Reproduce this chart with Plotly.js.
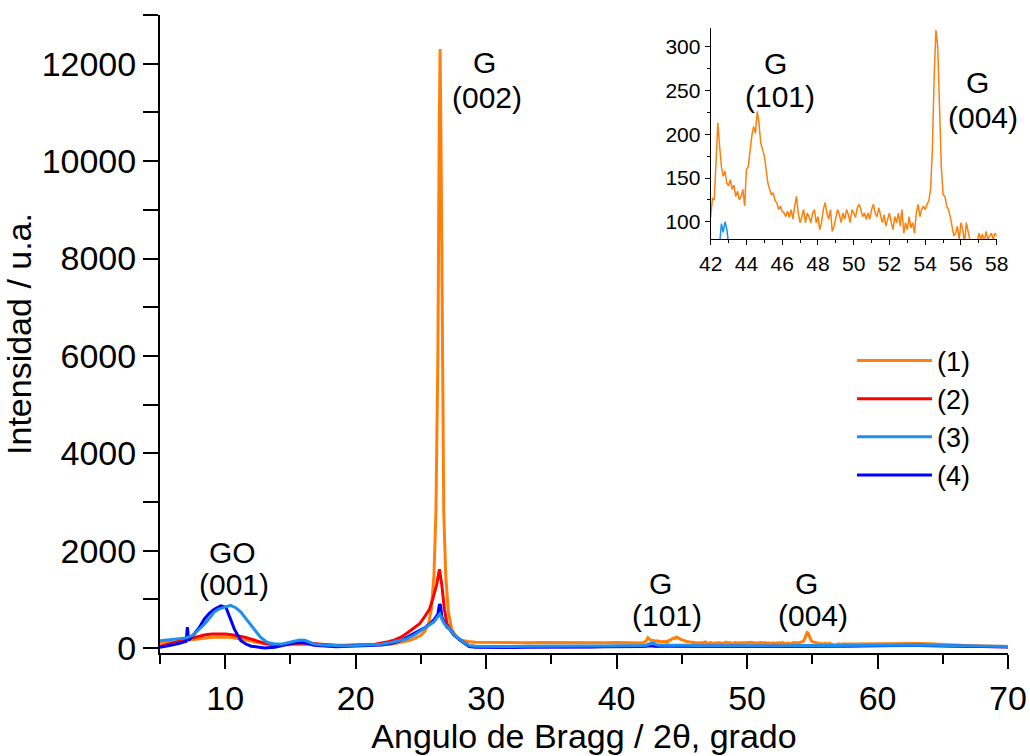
<!DOCTYPE html>
<html>
<head>
<meta charset="utf-8">
<script src="https://cdn.plot.ly/plotly-3.0.1.min.js"></script>
<style>html,body{margin:0;padding:0;background:#fff;}#chart{width:1030px;height:756px;}</style>
</head>
<body>
<div id="chart"></div>
<script>
// ---- Data ----
const seriesNames = ['(1)', '(2)', '(3)', '(4)'];
const seriesColors = ['#FF7F0A', '#FF0000', '#1E8FF0', '#0000FF'];

// Series (1): main range part, [2θ, intensity]
const s1Low = [[5,110],[5.5,130],[6,125],[6.5,145],[7,155],[7.5,170],[8,190],[8.5,210],[9,225],[9.5,232],[10,230],[10.5,220],[11,200],[11.5,175],[12,145],[12.5,115],[13,90],[13.5,72],[14,62],[14.5,66],[15,74],[15.5,82],[16,88],[16.5,82],[17,72],[17.5,66],[18,60],[18.5,62],[19,58],[19.5,60],[20,63],[20.5,61],[21,66],[21.5,69],[22,74],[22.5,82],[23,96],[23.5,118],[24,150],[24.5,195],[25,265],[25.3,345],[25.6,520],[25.8,800],[26.0,1500],[26.15,2800],[26.3,6000],[26.4,10500],[26.47,12300],[26.55,10000],[26.65,5500],[26.75,2800],[26.9,1500],[27.1,750],[27.35,400],[27.7,235],[28.1,165],[28.6,135],[29.2,122],[30,118],[31,114],[32,120],[33,112],[34,118],[35,115],[36,121],[37,113],[38,118],[39,112],[40,116],[41,110],[41.5,108]];
// Series (1): detail 42–58 (also shown in the inset)
const s1DetailX = [42.0,42.1,42.2,42.3,42.4,42.5,42.6,42.7,42.8,42.9,43.0,43.1,43.2,43.3,43.4,43.5,43.6,43.7,43.8,43.9,44.0,44.1,44.2,44.3,44.4,44.5,44.6,44.7,44.8,44.9,45.0,45.1,45.2,45.3,45.4,45.5,45.6,45.7,45.8,45.9,46.0,46.1,46.2,46.3,46.4,46.5,46.6,46.7,46.8,46.9,47.0,47.1,47.2,47.3,47.4,47.5,47.6,47.7,47.8,47.9,48.0,48.1,48.2,48.3,48.4,48.5,48.6,48.7,48.8,48.9,49.0,49.1,49.2,49.3,49.4,49.5,49.6,49.7,49.8,49.9,50.0,50.1,50.2,50.3,50.4,50.5,50.6,50.7,50.8,50.9,51.0,51.1,51.2,51.3,51.4,51.5,51.6,51.7,51.8,51.9,52.0,52.1,52.2,52.3,52.4,52.5,52.6,52.7,52.8,52.9,53.0,53.1,53.2,53.3,53.4,53.5,53.6,53.7,53.8,53.9,54.0,54.1,54.2,54.3,54.4,54.5,54.6,54.7,54.8,54.9,55.0,55.1,55.2,55.3,55.4,55.5,55.6,55.7,55.8,55.9,56.0,56.1,56.2,56.3,56.4,56.5,56.6,56.7,56.8,56.9,57.0,57.1,57.2,57.3,57.4,57.5,57.6,57.7,57.8,57.9,58.0];
const s1DetailY = [106,127,125,167,213,186,163,152,158,144,141,148,137,142,129,135,125,129,137,118,160,163,182,198,209,201,226,213,190,182,175,160,144,137,131,133,124,122,114,118,112,110,106,112,105,114,103,118,129,110,99,106,114,99,110,106,99,110,114,99,106,91,99,114,122,110,103,114,89,95,106,114,108,99,110,103,114,108,99,114,110,105,116,120,114,106,110,103,110,103,114,120,110,106,116,106,99,108,95,103,110,99,91,106,99,110,95,114,87,99,91,106,93,99,87,110,120,106,114,118,114,120,124,137,182,266,319,300,220,163,131,129,118,114,106,95,84,87,95,80,99,91,76,99,87,76,69,72,69,76,87,80,86,76,89,80,84,87,80,87,84];
const s1High = [[58.5,85],[59,88],[59.5,92],[60,95],[61,100],[62,102],[63,97],[64,88],[65,72],[66,58],[67,48],[68,42],[69,36],[70,32]];

// Series (2)
const s2 = [[5,40],[5.5,70],[6,100],[6.5,140],[7,180],[7.5,215],[8,250],[8.5,275],[9,290],[9.5,292],[10,288],[10.5,275],[11,255],[11.5,225],[12,185],[12.5,140],[13,100],[13.5,80],[14,72],[14.5,80],[15,95],[15.5,105],[16,112],[16.5,102],[17,88],[17.5,72],[18,62],[18.5,56],[19,52],[19.5,54],[20,57],[20.5,62],[21,72],[21.5,82],[22,100],[22.5,130],[23,170],[23.5,230],[24,320],[24.5,420],[24.9,500],[25.3,650],[25.66,800],[25.9,1000],[26.2,1300],[26.42,1620],[26.6,1300],[26.8,800],[27.0,500],[27.2,400],[27.5,280],[27.96,180],[28.4,90],[28.7,45],[29.2,32],[30,28],[31,30],[32,27],[33,32],[34,29],[35,31],[36,28],[37,33],[38,30],[39,34],[40,32],[41,36],[42,40],[43,42],[44,45],[45,43],[46,40],[47,38],[48,41],[49,39],[50,40],[51,37],[52,42],[53,38],[54,41],[55,44],[56,40],[57,43],[58,45],[59,48],[60,52],[61,55],[62,56],[63,54],[64,50],[65,45],[66,40],[67,36],[68,33],[69,30],[70,28]];

// Series (3)
const s3 = [[5,150],[5.5,165],[6,180],[6.5,195],[7,210],[7.5,260],[8,380],[8.4,490],[8.8,620],[9.16,740],[9.5,800],[9.9,840],[10.4,880],[10.8,830],[11.2,740],[11.6,600],[12,460],[12.4,330],[12.7,225],[13.2,120],[13.7,90],[14.3,80],[14.8,110],[15.3,150],[15.7,165],[16.1,160],[16.5,120],[16.8,85],[17.5,65],[18,55],[19,50],[20,55],[21,62],[22,80],[22.8,120],[23.3,150],[23.86,185],[24.5,270],[24.9,340],[25.3,400],[25.7,470],[26.0,540],[26.3,650],[26.45,700],[26.6,600],[26.8,500],[27.0,440],[27.2,390],[27.5,290],[27.96,180],[28.4,100],[28.7,55],[29.2,40],[30,35],[31,38],[32,35],[33,40],[34,38],[35,42],[36,40],[37,44],[38,42],[39,46],[40,45],[41,48],[42,55],[42.3,60],[42.5,75],[42.6,98],[42.7,88],[42.8,100],[42.9,92],[43.0,75],[43.3,58],[44,60],[44.6,70],[45.2,58],[46,52],[47,50],[48,52],[49,50],[50,52],[51,50],[52,53],[53,50],[54,55],[54.6,62],[55,52],[56,55],[57,57],[58,60],[59,65],[60,68],[61,70],[62,72],[63,68],[64,62],[65,55],[66,48],[67,42],[68,38],[69,35],[70,32]];

// Series (4)
const s4 = [[5,20],[5.5,40],[6,70],[6.5,100],[7,140],[7.1,430],[7.2,160],[7.5,250],[8,420],[8.4,600],[8.8,720],[9.16,800],[9.67,870],[10.05,840],[10.4,600],[10.7,390],[11.2,150],[11.6,80],[12,40],[12.5,15],[13,5],[13.8,20],[14.5,60],[15.3,110],[15.8,115],[16.3,100],[16.8,60],[17.5,45],[18,35],[18.5,30],[19,32],[20,38],[21,48],[22,65],[22.8,100],[23.5,160],[24,230],[24.5,300],[24.9,350],[25.3,420],[25.7,500],[26.0,580],[26.3,700],[26.42,900],[26.5,880],[26.6,650],[26.8,520],[27.0,430],[27.2,390],[27.5,280],[27.96,170],[28.4,80],[28.7,35],[29.2,20],[30,15],[31,18],[32,15],[33,20],[34,18],[35,22],[36,20],[37,25],[38,22],[39,26],[40,28],[41,30],[42,35],[42.6,60],[43,38],[44,42],[45,40],[46,35],[47,33],[48,36],[49,34],[50,35],[51,33],[52,36],[53,34],[54,38],[55,36],[56,40],[57,42],[58,45],[59,50],[60,55],[61,58],[62,60],[63,57],[64,52],[65,45],[66,38],[67,32],[68,28],[69,25],[70,22]];

// Tick labels
const mainXTicks = [10, 20, 30, 40, 50, 60, 70];
const mainYTicks = [0, 2000, 4000, 6000, 8000, 10000, 12000];
const mainYTickText = ['0', '2000', '4000', '6000', '8000', '10000', '12000'];
const insetXTicks = [42, 44, 46, 48, 50, 52, 54, 56, 58];
const insetYTicks = [100, 150, 200, 250, 300];

// ---- Build traces ----
const s1X = s1Low.map(p => p[0]).concat(s1DetailX, s1High.map(p => p[0]));
const s1Y = s1Low.map(p => p[1]).concat(s1DetailY, s1High.map(p => p[1]));
const px = a => a.map(p => p[0]);
const py = a => a.map(p => p[1]);

const seriesXY = [[s1X, s1Y], [px(s2), py(s2)], [px(s3), py(s3)], [px(s4), py(s4)]];
const drawOrder = [0, 1, 3, 2];
const FONT = 'Liberation Sans, Arial, sans-serif';

const traces = [];
drawOrder.forEach(i => {
  traces.push({
    x: seriesXY[i][0], y: seriesXY[i][1], type: 'scatter', mode: 'lines',
    name: seriesNames[i], legendrank: i + 1,
    line: {color: seriesColors[i], width: 3}, xaxis: 'x', yaxis: 'y'
  });
});
// Inset traces
[2, 0].forEach(i => {
  traces.push({
    x: seriesXY[i][0], y: seriesXY[i][1], type: 'scatter', mode: 'lines',
    showlegend: false, line: {color: seriesColors[i], width: 1.5},
    xaxis: 'x2', yaxis: 'y2'
  });
});

const annFont = {family: FONT, size: 30, color: '#000'};
const ann = (xr, yr, x, y, t) => ({xref: xr, yref: yr, x: x, y: y, text: t, showarrow: false, font: annFont});
const layout = {
  width: 1030, height: 756,
  margin: {l: 160, r: 22, t: 15, b: 103, pad: 0},
  paper_bgcolor: '#ffffff', plot_bgcolor: 'rgba(0,0,0,0)',
  font: {family: FONT, color: '#000'},
  showlegend: true,
  legend: {x: 0.816, y: 0.496, xanchor: 'left', yanchor: 'top', bgcolor: 'rgba(0,0,0,0)',
           font: {family: FONT, size: 27}, itemwidth: 75, tracegroupgap: 0},
  xaxis: {
    domain: [0, 1], range: [5, 70], tickvals: mainXTicks, ticks: 'outside', ticklen: 14, tickwidth: 2,
    tickcolor: '#000', showline: true, linewidth: 2, linecolor: '#000', showgrid: false, zeroline: false,
    minor: {dtick: 5, tick0: 5, ticks: 'outside', ticklen: 9, tickwidth: 2, tickcolor: '#000', showgrid: false},
    tickfont: {family: FONT, size: 34},
    title: {text: 'Angulo de Bragg / 2θ, grado', font: {family: FONT, size: 34}, standoff: 8},
    automargin: false, anchor: 'y'
  },
  yaxis: {
    domain: [0, 1], range: [-100, 13000], tickvals: mainYTicks, ticktext: mainYTickText,
    ticks: 'outside', ticklen: 15, tickwidth: 2,
    tickcolor: '#000', showline: true, linewidth: 2, linecolor: '#000', showgrid: false, zeroline: false,
    minor: {dtick: 1000, tick0: 0, ticks: 'outside', ticklen: 15, tickwidth: 2, tickcolor: '#000', showgrid: false},
    tickfont: {family: FONT, size: 34},
    title: {text: 'Intensidad / u.a.', font: {family: FONT, size: 34}, standoff: 0},
    automargin: false, anchor: 'x'
  },
  xaxis2: {
    domain: [0.6494, 0.9867], range: [42, 58], tickvals: insetXTicks, ticks: 'outside', ticklen: 5, tickwidth: 1,
    tickcolor: '#000', showline: true, linewidth: 1, linecolor: '#000', showgrid: false, zeroline: false,
    minor: {dtick: 1, ticks: 'outside', ticklen: 3, tickwidth: 1, tickcolor: '#000', showgrid: false},
    tickfont: {family: FONT, size: 21}, anchor: 'y2', automargin: false
  },
  yaxis2: {
    domain: [0.6484, 0.9792], range: [80, 321], tickvals: insetYTicks, ticks: 'outside', ticklen: 5, tickwidth: 1,
    tickcolor: '#000', showline: true, linewidth: 1, linecolor: '#000', showgrid: false, zeroline: false,
    minor: {dtick: 25, tick0: 0, ticks: 'outside', ticklen: 3, tickwidth: 1, tickcolor: '#000', showgrid: false},
    tickfont: {family: FONT, size: 21}, anchor: 'x2', automargin: false
  },
  annotations: [
    ann('x', 'y', 29.91, 12035, 'G'), ann('x', 'y', 30.06, 11316, '(002)'),
    ann('x', 'y', 10.52, 1960, 'GO'), ann('x', 'y', 10.67, 1310, '(001)'),
    ann('x', 'y', 43.40, 1330, 'G'), ann('x', 'y', 43.86, 670, '(101)'),
    ann('x', 'y', 54.59, 1330, 'G'), ann('x', 'y', 55.05, 670, '(004)'),
    ann('x2', 'y2', 45.60, 281, 'G'), ann('x2', 'y2', 45.88, 243, '(101)'),
    ann('x2', 'y2', 56.90, 259, 'G'), ann('x2', 'y2', 57.23, 219, '(004)')
  ]
};

Plotly.newPlot('chart', traces, layout, {displayModeBar: false, staticPlot: true});
</script>
</body>
</html>
